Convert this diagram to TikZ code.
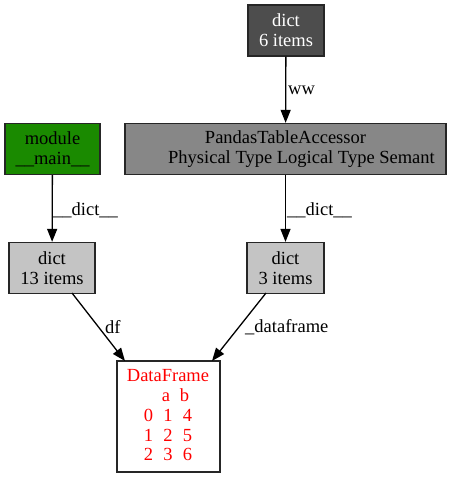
\documentclass[tikz,border=0pt]{standalone}
\usepackage{fontspec}
\setmainfont{Liberation Serif}
\usetikzlibrary{arrows.meta}
\definecolor{gdark}{HTML}{4D4D4D}
\definecolor{gmid}{HTML}{878787}
\definecolor{glight}{HTML}{C4C4C4}
\definecolor{gGreen}{HTML}{1A8A00}
\tikzset{
  box/.style={draw=black!85, line width=1.3pt, inner sep=0pt, align=center,
    font=\fontsize{18.5}{20}\selectfont, minimum height=51pt},
  conn/.style={draw=black, line width=1.3pt, -{Triangle[length=13pt,width=10pt]}},
  elabel/.style={font=\fontsize{18.5}{20}\selectfont, inner sep=0pt, anchor=west},
  dftext/.style={font=\fontsize{18.5}{20}\selectfont, inner sep=0pt, anchor=base, text=red}
}
\begin{document}
\begin{tikzpicture}[x=1pt,y=-1pt]
\useasboundingbox (0,0) rectangle (453,477);
\node[box, fill=gdark, text=white, minimum width=76pt] (d6) at (286,30.5) {dict\\6 items};
\node[box, fill=gmid, minimum width=321pt] (pta) at (285.5,149) {PandasTableAccessor\\\hspace*{32pt}Physical Type Logical Type Semant};
\node[box, fill=gGreen, minimum width=95pt] (mod) at (52.5,149) {module\\\_\_main\_\_};
\node[box, fill=glight, minimum width=86pt] (d13) at (52,268) {dict\\13 items};
\node[box, fill=glight, minimum width=77pt] (d3) at (285.5,268) {dict\\3 items};
\node[box, fill=white, minimum width=103pt, minimum height=111pt] (df) at (168.5,416.5) {};
\node[dftext] (dft) at (168,381) {DataFrame};
\node[dftext] (ca) at (166,401.5) {a};
\node[dftext] (cb) at (184.5,401.5) {b};
\node[dftext] (r00) at (148.5,421.5) {0};
\node[dftext] (r01) at (168,421.5) {1};
\node[dftext] (r02) at (187.5,421.5) {4};
\node[dftext] (r10) at (148.5,441) {1};
\node[dftext] (r11) at (168,441) {2};
\node[dftext] (r12) at (187.5,441) {5};
\node[dftext] (r20) at (148.5,460.5) {2};
\node[dftext] (r21) at (168,460.5) {3};
\node[dftext] (r22) at (187.5,460.5) {6};
\coordinate (s1) at (72,293);
\coordinate (t1) at (125,361);
\coordinate (s2) at (266,293);
\coordinate (t2) at (212,361);
\draw[conn] (d6) -- (pta);
\node[elabel] (lww) at (288,90) {ww};
\draw[conn] (mod) -- (d13);
\node[elabel] (ld1) at (53,210) {\_\_dict\_\_};
\draw[conn] (pta.south -| d3) -- (d3);
\node[elabel] (ld2) at (287,210) {\_\_dict\_\_};
\draw[conn] (s1) -- (t1);
\node[elabel] (ldf) at (105,327) {df};
\draw[conn] (s2) -- (t2);
\node[elabel] (ldfr) at (245,327) {\_dataframe};
\end{tikzpicture}
\end{document}
